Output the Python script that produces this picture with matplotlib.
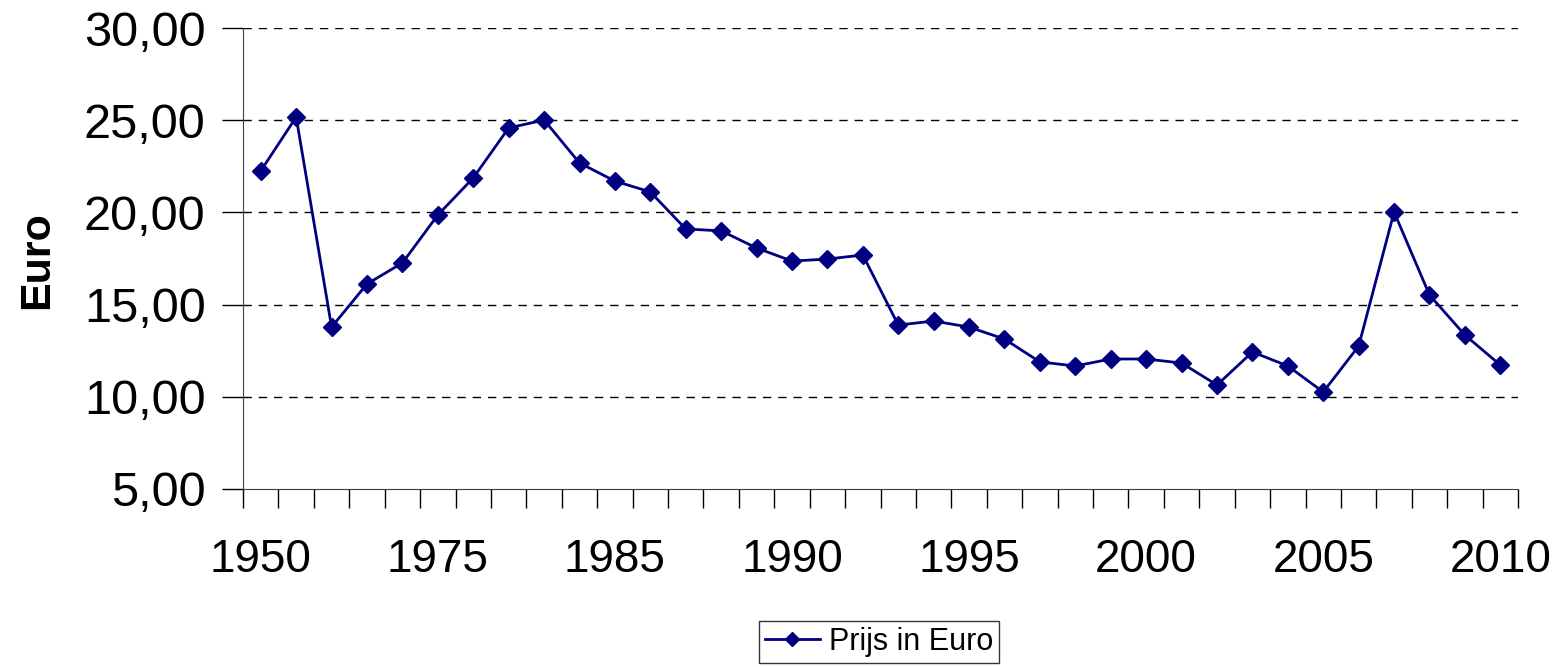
import matplotlib.pyplot as plt
from matplotlib.ticker import FuncFormatter, FixedLocator
import numpy as np

plt.rcParams['font.family'] = ['Liberation Sans', 'DejaVu Sans']

# categories (years) and prices
years = [1950, 1955, 1960, 1965, 1970, 1975, 1977, 1979, 1981, 1983] + list(range(1985, 2011))
prices = [22.25, 25.17, 13.78, 16.12, 17.26, 19.86, 21.87, 24.58, 25.01, 22.68,
          21.70, 21.11, 19.10, 19.00, 18.07, 17.36, 17.47, 17.69, 13.89, 14.11,
          13.78, 13.13, 11.89, 11.67, 12.05, 12.05, 11.83, 10.64, 12.43, 11.67,
          10.26, 12.75, 20.02, 15.52, 13.35, 11.72]
y_ticks = [5, 10, 15, 20, 25, 30]

fig = plt.figure(figsize=(15.6, 6.67), dpi=100)
ax = fig.add_axes([0.1558, 0.2669, 0.9731 - 0.1558, 0.958 - 0.2669])

x = np.arange(len(years))
line, = ax.plot(x, prices, color='#000080', lw=2, marker='D', markersize=9,
                label='Prijs in Euro')

ax.set_xlim(-0.5, len(years) - 0.5)
ax.set_ylim(5, 30)
ax.set_yticks(y_ticks)
ax.yaxis.set_major_formatter(FuncFormatter(lambda v, p: ('%.2f' % v).replace('.', ',')))
for v in y_ticks[1:]:
    ax.axhline(v, color='black', lw=1, ls=(0, (6, 5)), zorder=0)

# tick marks on category boundaries, labels every 5th category
ax.xaxis.set_major_locator(FixedLocator(np.arange(len(years) + 1) - 0.5))
ax.xaxis.set_major_formatter(FuncFormatter(lambda v, p: ''))
lab_pos = x[::5]
ax.set_xticks(lab_pos, minor=True)
ax.set_xticklabels([str(years[i]) for i in lab_pos], minor=True)
ax.tick_params(axis='x', which='major', length=14, width=1, direction='out')
ax.tick_params(axis='x', which='minor', length=0, pad=35, labelsize=33)
ax.tick_params(axis='y', length=15, width=1, pad=12, labelsize=35)

for s in ['top', 'right']:
    ax.spines[s].set_visible(False)
ax.spines['left'].set_color('#404040')
ax.spines['bottom'].set_color('#404040')

fig.text(0.024, 0.61, 'Euro', rotation=90, fontsize=31, fontweight='bold',
         ha='center', va='center')

leg = fig.legend(handles=[line], loc='center', bbox_to_anchor=(0.5635, 0.0375),
                 fontsize=22, frameon=True, fancybox=False, edgecolor='black',
                 handlelength=1.8, handletextpad=0.3, borderpad=0.2,
                 borderaxespad=0, markerscale=0.8)

fig.savefig('out.png', dpi=100)
